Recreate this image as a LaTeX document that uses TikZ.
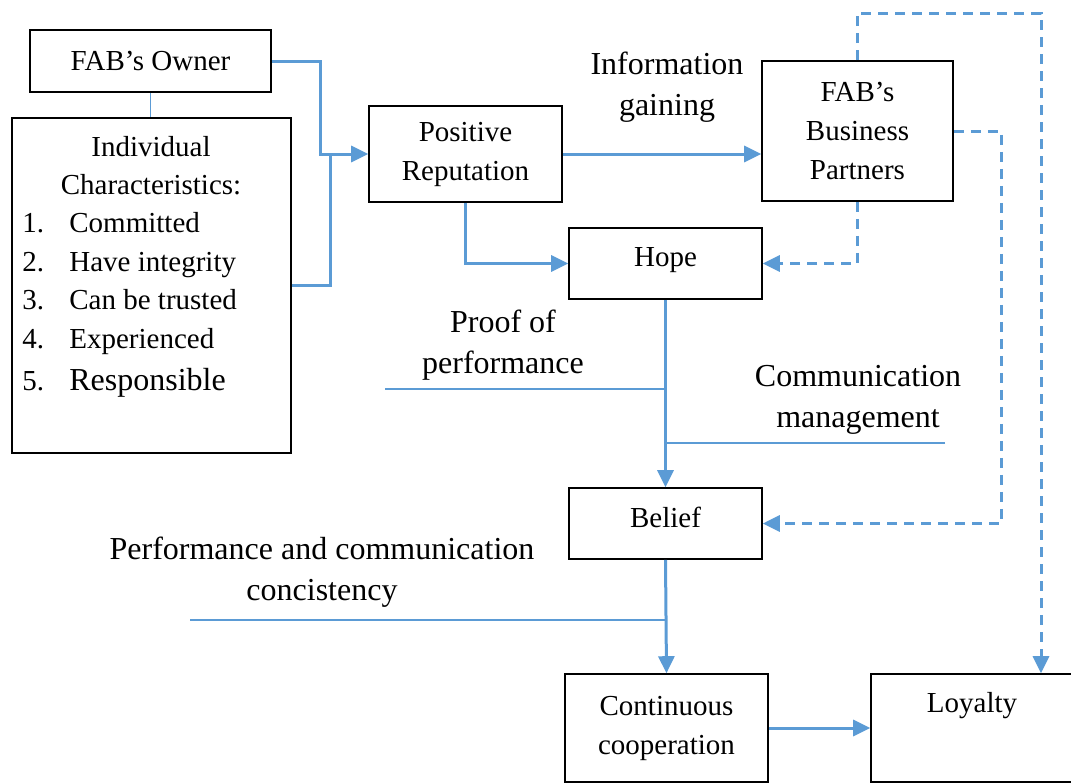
\documentclass[tikz,border=0pt]{standalone}
\usepackage{fontspec}
\setmainfont{Liberation Serif}
\usetikzlibrary{arrows.meta}
\definecolor{flowblue}{RGB}{91,155,213}

\begin{document}
\begin{tikzpicture}[x=0.5pt,y=-0.5pt,
        box/.style={draw=black,line width=0.8pt,align=center,inner sep=0pt,font=\fontsize{14.5}{19.5}\selectfont},
        item/.style={anchor=base west,inner sep=0pt,font=\fontsize{14.5}{19.5}\selectfont},
        lbl/.style={align=center,font=\fontsize{16}{20.5}\selectfont},
        flow/.style={draw=flowblue,line width=1.5pt,-{Triangle[length=8.5pt,width=8pt]}},
        link/.style={draw=flowblue,line width=0.75pt},
        maybe/.style={flow,dash pattern=on 5pt off 3.5pt}]
        \useasboundingbox (0,0) rectangle (1071,783);
        % boxes
        \node [box,minimum width=120.5pt,minimum height=31pt] (owner) at (150.5,61) {FAB’s Owner};
        \node [box,minimum width=139.5pt,minimum height=167.5pt] (traits) at (151.5,285.5) {};
        \node [box,minimum width=96.5pt,minimum height=48pt] (repu) at (465.5,154) {Positive\\Reputation};
        \node [box,minimum width=95.5pt,minimum height=70pt] (partners) at (857.5,131) {FAB’s\\Business\\Partners};
        \node [box,minimum width=96.5pt,minimum height=35.5pt] (hope) at (665.5,263.5) {Hope\\[-13pt]};
        \node [box,minimum width=96.5pt,minimum height=35.5pt] (belief) at (665.5,523.5) {Belief\\[-13pt]};
        \node [box,minimum width=101.5pt,minimum height=54pt] (coop) at (666.5,728) {Continuous\\cooperation};
        \node [box,minimum width=101pt,minimum height=54pt] (loyal) at (972,728) {Loyalty\\\strut};
        % list of traits
        \node [item,anchor=base] (t0) at (151,156) {Individual};
        \node [item,anchor=base] (t00) at (151,194) {Characteristics:};
        \foreach \n/\y/\t in {1/232/Committed,2/271/Have integrity,3/309/Can be trusted,4/348.5/Experienced} {
            \node [item] (n\n) at (22,\y) {\n.};
            \node [item] (t\n) at (69,\y) {\t};
        }
        \node [item] (n5) at (22,390) {5.};
        \node [item,font=\fontsize{16}{19.5}\selectfont] (t5) at (69,390) {Responsible};
        % labels
        \node [lbl] (info) at (667,87) {Information\\gaining};
        \node [lbl] (proof) at (503,345) {Proof of\\performance};
        \node [lbl] (comm) at (858,400) {Communication\\management};
        \node [lbl] (cons) at (322,572) {Performance and communication\\concistency};
        % connectors
        \coordinate (jn) at (320,154);
        \coordinate (jn2) at (330,154);
        \draw [link] (owner.south) -- (owner.south |- traits.north);
        \draw [flow] (owner.east) -| (jn) -- (repu.west);
        \draw [flow,-] (traits.east) -| (jn2);
        \draw [flow] (repu.east) -- (repu.east -| partners.west);
        \draw [flow] (repu.south) |- (hope.west);
        \draw [maybe] (partners.south) |- (hope.east);
        \draw [flow] (hope.south) -- (belief.north);
        \coordinate (c1) at (1001,131);
        \draw [maybe] (partners.east) -- (c1) |- (belief.east);
        \coordinate (c2) at (1041,13);
        \draw [maybe] (partners.north) |- (c2) -- (c2 |- loyal.north);
        \draw [flow] (belief.south) -- (coop.north);
        \draw [flow] (coop.east) -- (loyal.west);
        \coordinate (pp) at (385,389);
        \draw [link] (pp) -- (pp -| hope.south);
        \coordinate (cm) at (945,443);
        \draw [link] (cm) -- (cm -| hope.south);
        \coordinate (pc) at (190,620);
        \draw [link] (pc) -- (pc -| belief.south);
    \end{tikzpicture}
\end{document}
